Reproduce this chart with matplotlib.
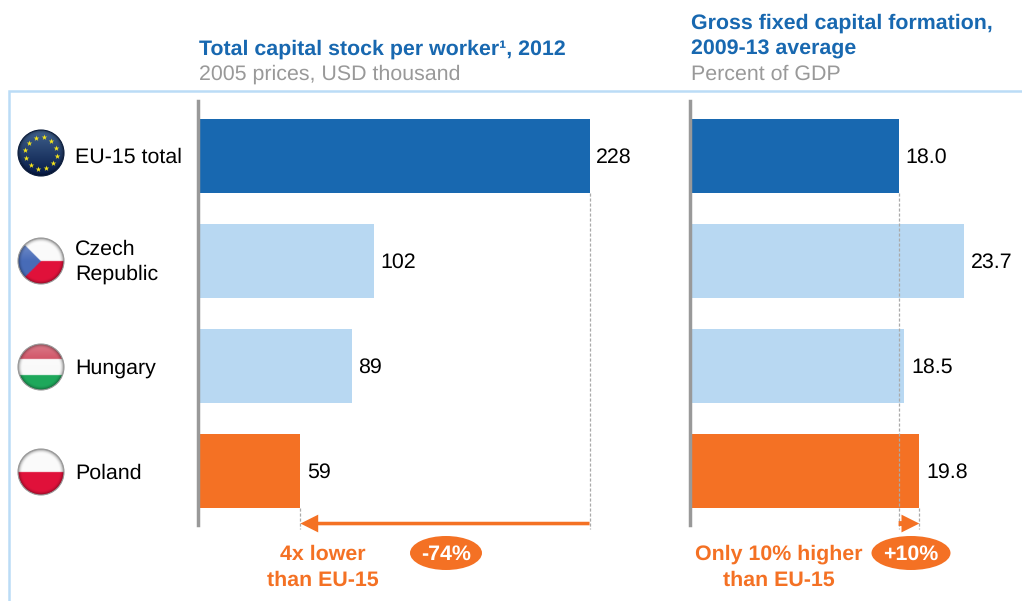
#!/usr/bin/env python3
"""Capital stock per worker and capital formation, EU-15 vs CEE countries."""

import numpy as np
import matplotlib
matplotlib.use("Agg")
import matplotlib.pyplot as plt
from matplotlib.patches import Circle, Ellipse

plt.rcParams["font.family"] = ["Liberation Sans", "DejaVu Sans"]
plt.rcParams["text.hinting"] = "no_hinting"

countries = ["EU-15 total", "Czech\nRepublic", "Hungary", "Poland"]
capital_stock = [228, 102, 89, 59]
capital_formation = [18.0, 23.7, 18.5, 19.8]
formation_labels = ["18.0", "23.7", "18.5", "19.8"]

left_title = "Total capital stock per worker¹, 2012"
left_sub = "2005 prices, USD thousand"
right_title = ["Gross fixed capital formation,", "2009-13 average"]
right_sub = "Percent of GDP"

DARK_BLUE = "#1868B0"
LIGHT_BLUE = "#B8D8F2"
ORANGE = "#F47124"
GRAY = "#999999"
FRAME = "#BBDCF6"
bar_colours = [DARK_BLUE, LIGHT_BLUE, LIGHT_BLUE, ORANGE]
FS = 15.4

W, H = 1022, 601


def px_axes(fig, x0, x1, y0, y1, **kw):
    # axes placed by pixel box, y measured from the top of the image
    return fig.add_axes([x0 / W, 1 - y1 / H, (x1 - x0) / W, (y1 - y0) / H], **kw)


def bar_panel(fig, x0, x1, xmax, values, labels):
    ax = px_axes(fig, x0, x1, 101, 525)
    ax.patch.set_alpha(0)
    ax.barh(range(4), values, height=0.705, color=bar_colours, zorder=2)
    ax.set_xlim(0, xmax)
    ax.set_ylim(3.514, -0.524)
    ax.set_xticks([])
    ax.set_yticks([])
    for side in ["top", "right", "bottom"]:
        ax.spines[side].set_visible(False)
    ax.spines["left"].set_color(GRAY)
    ax.spines["left"].set_linewidth(2.5)
    ax.spines["left"].set_position(("outward", 1.2))
    for i, (v, lab) in enumerate(zip(values, labels)):
        ax.annotate(lab, (v, i), xytext=(4.8, -0.8), textcoords="offset points",
                    ha="left", va="center", fontsize=FS, color="black")
    return ax


def reference_lines(ax, v_top, v_bottom):
    # thin dashed guides running from the bars down to the arrow
    ax.plot([v_top, v_top], [0.35, 3.55], color="#AAAAAA", lw=0.9, ls=(0, (2.5, 1.5)),
            clip_on=False, zorder=3)
    ax.plot([v_bottom, v_bottom], [3.35, 3.55], color="#AAAAAA", lw=0.9, ls=(0, (2.5, 1.5)),
            clip_on=False, zorder=3)


def change_arrow(ax, v_from, v_to, tail):
    ax.annotate("", xy=(v_to, 3.5), xytext=(v_from, 3.5), annotation_clip=False,
                arrowprops=dict(arrowstyle=f"simple,tail_width={tail},head_width=0.8,head_length=0.8",
                                mutation_scale=16, color=ORANGE, lw=0, shrinkA=0, shrinkB=0))


def flag_image(kind, n=120):
    v, u = np.mgrid[-1:1:n * 1j, -1:1:n * 1j]
    img = np.ones((n, n, 3))
    white = np.array([0.98, 0.98, 0.98])
    red = np.array([0.88, 0.07, 0.23])
    img[:] = white
    if kind == "eu":
        top = np.array([0.25, 0.38, 0.55])
        bottom = np.array([0.02, 0.10, 0.28])
        t = np.clip((v + 1) / 2, 0, 1)[..., None]
        img = top * (1 - t) + bottom * t
    elif kind == "cz":
        img[v > 0] = red
        img[u + 1 < 1.0 - np.abs(v)] = np.array([0.28, 0.42, 0.72])
    elif kind == "hu":
        img[v < -0.36] = np.array([0.80, 0.26, 0.34])
        img[v > 0.36] = np.array([0.12, 0.66, 0.36])
    elif kind == "pl":
        img[v > 0] = red
    # soft shading: lighter on the top half, darker towards the rim
    r = np.sqrt(u ** 2 + v ** 2)
    gloss = np.clip(-v, 0, 1)[..., None] * 0.3
    if kind != "eu":
        img = img * (1 - gloss) + gloss
    rim = (1 - 0.4 * np.clip((r - 0.8) / 0.2, 0, 1) ** 2)[..., None]
    return np.clip(img * rim, 0, 1)


def draw_flag(ov, kind, cx, cy, radius=23):
    im = ov.imshow(flag_image(kind), extent=(cx - radius, cx + radius, cy + radius, cy - radius),
                   zorder=4, interpolation="bilinear", aspect="auto")
    clip = Circle((cx, cy), radius, transform=ov.transData)
    im.set_clip_path(clip)
    edge = "#0A1C3C" if kind == "eu" else "#999999"
    ov.add_patch(Circle((cx, cy), radius, fill=False, ec=edge, lw=0.8, zorder=5))
    if kind == "eu":
        ang = np.deg2rad(np.arange(0, 360, 30) + 10)
        ov.scatter(cx + 16 * np.cos(ang), cy + 16 * np.sin(ang), marker="*", s=18,
                   color="#F5E51B", linewidths=0, zorder=6)


fig = plt.figure(figsize=(W / 100, H / 100), dpi=100, facecolor="white")

# overlay in image pixels for frame, headings, flags and callouts
ov = fig.add_axes([0, 0, 1, 1], zorder=5)
ov.set_xlim(0, W)
ov.set_ylim(H, 0)
ov.axis("off")
ov.patch.set_alpha(0)

ov.plot([1022, 9, 9], [91, 91, 601], color=FRAME, lw=1.8, solid_joinstyle="miter")

ov.text(199, 49, left_title, fontsize=FS, fontweight="bold", color=DARK_BLUE,
        ha="left", va="center")
ov.text(199, 74.5, left_sub, fontsize=FS, color=GRAY, ha="left", va="center")
ov.text(691, 23, right_title[0], fontsize=FS, fontweight="bold", color=DARK_BLUE,
        ha="left", va="center")
ov.text(691, 49, right_title[1], fontsize=FS, fontweight="bold", color=DARK_BLUE,
        ha="left", va="center")
ov.text(691, 74.5, right_sub, fontsize=FS, color=GRAY, ha="left", va="center")

label_y = [157, 262, 368, 473.5]
flag_y = [153, 261, 367, 472]
for name, kind, ly, fy in zip(countries, ["eu", "cz", "hu", "pl"], label_y, flag_y):
    ov.text(75, ly, name, fontsize=FS, color="black", ha="left", va="center", linespacing=1.33,
            multialignment="left")
    draw_flag(ov, kind, 41, fy)
ov.set_xlim(0, W)
ov.set_ylim(H, 0)

# bar panels
ax_l = bar_panel(fig, 199.5, 640, 257.5, capital_stock, [str(v) for v in capital_stock])
ax_r = bar_panel(fig, 692, 1022, 28.75, capital_formation, formation_labels)

reference_lines(ax_l, capital_stock[0], capital_stock[3])
reference_lines(ax_r, capital_formation[0], capital_formation[3])

change_arrow(ax_l, capital_stock[0], capital_stock[3], 0.16)
change_arrow(ax_r, capital_formation[0], capital_formation[3], 0.22)

# callouts
ov.text(323, 554.5, "4x lower", fontsize=FS, fontweight="bold", color=ORANGE,
        ha="center", va="center")
ov.text(323, 580, "than EU-15", fontsize=FS, fontweight="bold", color=ORANGE,
        ha="center", va="center")
ov.text(779, 554.5, "Only 10% higher", fontsize=FS, fontweight="bold", color=ORANGE,
        ha="center", va="center")
ov.text(779, 580, "than EU-15", fontsize=FS, fontweight="bold", color=ORANGE,
        ha="center", va="center")

ov.add_patch(Ellipse((446, 553), 72, 34, fc=ORANGE, ec="none", zorder=3))
ov.text(446, 554.5, "-74%", fontsize=FS, fontweight="bold", color="white",
        ha="center", va="center", zorder=4)
ov.add_patch(Ellipse((911, 553), 79, 34, fc=ORANGE, ec="none", zorder=3))
ov.text(911, 554.5, "+10%", fontsize=FS, fontweight="bold", color="white",
        ha="center", va="center", zorder=4)

fig.savefig("out.png", dpi=100, facecolor="white")
plt.close(fig)
